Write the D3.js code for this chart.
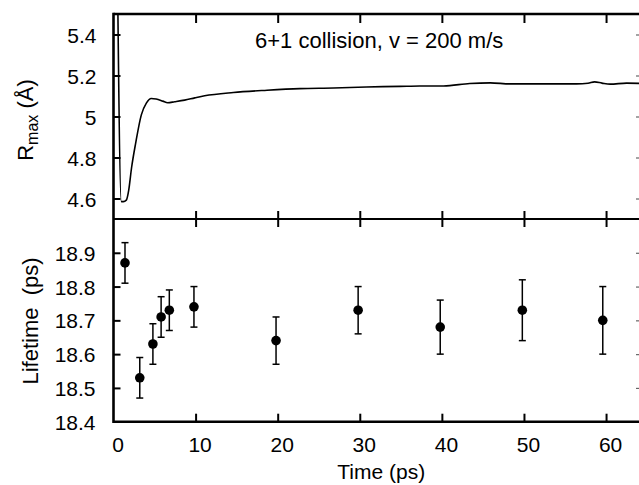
<!DOCTYPE html>
<html>
<head>
<meta charset="utf-8">
<script src="https://cdn.jsdelivr.net/npm/d3@7"></script>
<style>
  html, body { margin: 0; padding: 0; background: #fff; }
  svg { display: block; font-family: "Liberation Sans", Arial, Helvetica, sans-serif; }
  .tick text { font-size: 21px; fill: #000; }
</style>
</head>
<body>
<svg id="chart" width="639" height="485"></svg>
<script>
// ---- data ----
const rmaxTime  = [0.45, 0.95, 1.2, 1.56, 1.85, 2.2, 2.7, 3.39, 4.0, 4.6, 5.2, 6.0, 6.6, 7.45, 8.67, 9.9, 11.1, 14.6, 18.7, 22.7, 26.8, 30.8, 34.9, 37.3, 40.2, 43.4, 45.9, 48.3, 52.3, 56.4, 57.8, 58.6, 59.5, 60.5, 62.5, 64.5];
const rmaxValue = [5.82, 4.585, 4.585, 4.592, 4.64, 4.75, 4.87, 5.008, 5.065, 5.088, 5.085, 5.075, 5.067, 5.072, 5.08, 5.091, 5.101, 5.117, 5.128, 5.136, 5.139, 5.144, 5.147, 5.149, 5.149, 5.161, 5.164, 5.159, 5.159, 5.159, 5.162, 5.169, 5.163, 5.158, 5.163, 5.161];

const lifeTime  = [1.4, 3.2, 4.8, 5.8, 6.8, 9.8, 19.8, 29.8, 39.8, 49.8, 59.6];
const lifeValue = [18.87, 18.53, 18.63, 18.71, 18.73, 18.74, 18.64, 18.73, 18.68, 18.73, 18.70];
const lifeLow   = [18.81, 18.47, 18.57, 18.65, 18.67, 18.68, 18.57, 18.66, 18.60, 18.64, 18.60];
const lifeHigh  = [18.93, 18.59, 18.69, 18.77, 18.79, 18.80, 18.71, 18.80, 18.76, 18.82, 18.80];

const xTicks      = [0, 10, 20, 30, 40, 50, 60];
const rmaxTicks   = [4.6, 4.8, 5.0, 5.2, 5.4];
const lifeTicks   = [18.4, 18.5, 18.6, 18.7, 18.8, 18.9];
const titleText   = "6+1 collision, v = 200 m/s";
const xLabel      = "Time (ps)";
const lifeLabel   = "Lifetime  (ps)";

// ---- layout ----
const svg = d3.select("#chart");
const L = 113.5, R = 643, T = 14, MID = 219, B = 421.7;

const x = d3.scaleLinear().domain([0, 64.5]).range([L, R]);
const yTop = d3.scaleLinear().domain([4.5, 5.5]).range([MID, T]);
const yBot = d3.scaleLinear().domain([18.4, 19.0]).range([B, MID]);

const defs = svg.append("defs");
defs.append("clipPath").attr("id", "clipTop")
  .append("rect").attr("x", L).attr("y", T).attr("width", R - L).attr("height", MID - T);

// ---- data line (top) ----
const line = d3.line()
  .x((d, i) => x(rmaxTime[i]))
  .y(d => yTop(d))
  .curve(d3.curveMonotoneX);
svg.append("path")
  .attr("d", line(rmaxValue))
  .attr("clip-path", "url(#clipTop)")
  .attr("fill", "none")
  .attr("stroke", "#000")
  .attr("stroke-width", 1.6);

// ---- axes ----
function styleAxis(g) {
  g.select(".domain").remove();
  g.selectAll(".tick line").attr("stroke", "#000").attr("stroke-width", 2);
}

// left, top panel
svg.append("g").attr("transform", `translate(${L},0)`)
  .call(d3.axisLeft(yTop).tickValues(rmaxTicks).tickSize(-7).tickPadding(17)
        .tickFormat(d => d3.format("~g")(d)))
  .call(styleAxis)
  .call(g => g.selectAll(".tick text").attr("dy", "0.36em"));

// left, bottom panel
svg.append("g").attr("transform", `translate(${L},0)`)
  .call(d3.axisLeft(yBot).tickValues(lifeTicks).tickSize(-7).tickPadding(18)
        .tickFormat(d3.format(".1f")))
  .call(styleAxis)
  .call(g => g.selectAll(".tick text").attr("dy", "0.36em"))
  .call(g => g.selectAll(".tick").filter(d => d === 18.4).select("line").remove());

// right side small ticks
[[yTop, rmaxTicks], [yBot, lifeTicks.filter(v => v > 18.4)]].forEach(([sc, tv]) => {
  svg.append("g").attr("transform", `translate(${R},0)`)
    .call(d3.axisRight(sc).tickValues(tv).tickSize(-7).tickFormat(""))
    .call(g => g.select(".domain").remove())
    .call(g => g.selectAll(".tick line").attr("stroke", "#666").attr("stroke-width", 1.2));
});

// top frame ticks
svg.append("g").attr("transform", `translate(0,${T})`)
  .call(d3.axisTop(x).tickValues(xTicks.filter(v => v > 0)).tickSize(-9).tickFormat(""))
  .call(styleAxis);

// divider ticks (both directions)
svg.append("g").attr("transform", `translate(0,${MID})`)
  .call(d3.axisBottom(x).tickValues(xTicks.filter(v => v > 0)).tickSize(8).tickFormat(""))
  .call(styleAxis);
svg.append("g").attr("transform", `translate(0,${MID})`)
  .call(d3.axisBottom(x).tickValues(xTicks.filter(v => v > 0)).tickSize(-8).tickFormat(""))
  .call(styleAxis);

// bottom axis
svg.append("g").attr("transform", `translate(0,${B})`)
  .call(d3.axisBottom(x).tickValues(xTicks).tickSize(-8).tickPadding(15))
  .call(styleAxis)
  .call(g => g.selectAll(".tick").filter(d => d === 0).select("line").remove())
  .call(g => g.selectAll(".tick text").attr("dx", 4));

// ---- frame ----
const frame = svg.append("g").attr("stroke", "#000").attr("stroke-width", 2.6).attr("fill", "none");
frame.append("line").attr("x1", L).attr("x2", L).attr("y1", T - 1.3).attr("y2", B + 1.3);
frame.append("line").attr("x1", L).attr("x2", R).attr("y1", T).attr("y2", T);
frame.append("line").attr("x1", L).attr("x2", R).attr("y1", MID).attr("y2", MID).attr("stroke-width", 2);
frame.append("line").attr("x1", L).attr("x2", R).attr("y1", B).attr("y2", B);

// ---- error bars (bottom) ----
const eb = svg.append("g").attr("stroke", "#000").attr("stroke-width", 1.5);
lifeTime.forEach((t, i) => {
  const cx = x(t);
  eb.append("line").attr("x1", cx).attr("x2", cx).attr("y1", yBot(lifeLow[i])).attr("y2", yBot(lifeHigh[i]));
  eb.append("line").attr("x1", cx - 3.5).attr("x2", cx + 3.5).attr("y1", yBot(lifeLow[i])).attr("y2", yBot(lifeLow[i]));
  eb.append("line").attr("x1", cx - 3.5).attr("x2", cx + 3.5).attr("y1", yBot(lifeHigh[i])).attr("y2", yBot(lifeHigh[i]));
});
svg.append("g").selectAll("circle")
  .data(lifeValue)
  .join("circle")
  .attr("cx", (d, i) => x(lifeTime[i]))
  .attr("cy", d => yBot(d))
  .attr("r", 4.8)
  .attr("fill", "#000");

// ---- texts ----
svg.append("text")
  .attr("x", 255).attr("y", 48)
  .attr("font-size", 22)
  .text(titleText);

svg.append("text")
  .attr("x", (L + R) / 2 + 3).attr("y", 479)
  .attr("text-anchor", "middle")
  .attr("font-size", 21)
  .text(xLabel);

const rl = svg.append("text")
  .attr("transform", "translate(33,120) rotate(-90)")
  .attr("text-anchor", "middle")
  .attr("font-size", 22);
rl.append("tspan").text("R");
rl.append("tspan").attr("font-size", 16).attr("dy", 5).text("max");
rl.append("tspan").attr("dy", -5).text(" (Å)");

svg.append("text")
  .attr("transform", "translate(38,321) rotate(-90)")
  .attr("text-anchor", "middle")
  .attr("font-size", 22)
  .style("white-space", "pre")
  .text(lifeLabel);
</script>
</body>
</html>
